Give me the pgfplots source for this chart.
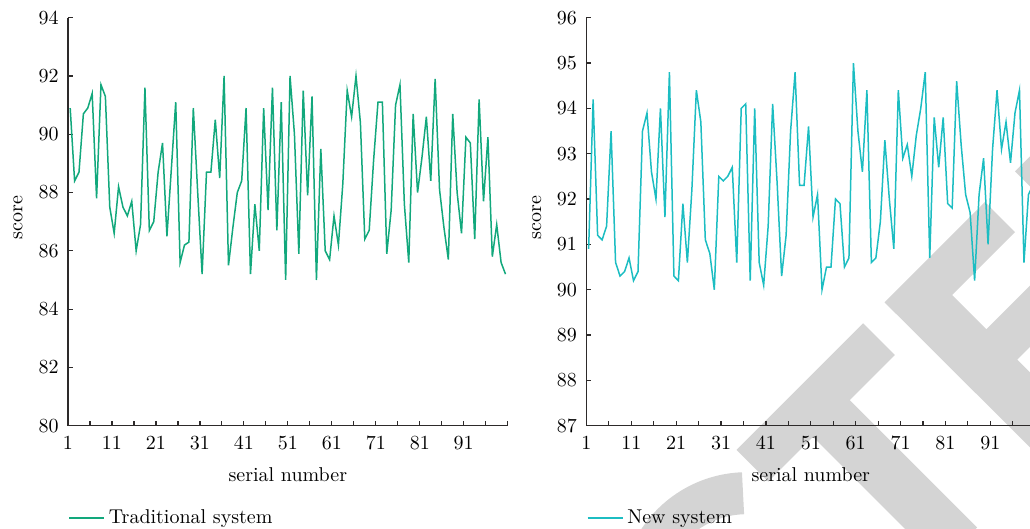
\documentclass[border=0pt]{standalone}
\usepackage{pgfplots}
\usepackage{pgfplotstable}
\pgfplotsset{compat=1.18}

\definecolor{tradgreen}{RGB}{18,168,124}
\definecolor{newcyan}{RGB}{28,189,194}
\definecolor{wm}{RGB}{212,212,212}
\definecolor{axisgray}{RGB}{45,42,42}

% scores, serial number n = 1..100
\pgfplotstableread{
n s
1 90.9
2 88.4
3 88.7
4 90.7
5 90.9
6 91.4
7 87.8
8 91.7
9 91.3
10 87.5
11 86.6
12 88.2
13 87.5
14 87.2
15 87.7
16 86.0
17 86.9
18 91.6
19 86.7
20 87.0
21 88.7
22 89.7
23 86.5
24 88.8
25 91.1
26 85.6
27 86.2
28 86.3
29 90.9
30 88.0
31 85.2
32 88.7
33 88.7
34 90.5
35 88.5
36 92.0
37 85.5
38 86.8
39 88.0
40 88.4
41 90.9
42 85.2
43 87.6
44 86.0
45 90.9
46 87.4
47 91.6
48 86.7
49 91.1
50 85.0
51 92.0
52 90.0
53 85.9
54 91.5
55 87.9
56 91.3
57 85.0
58 89.5
59 86.0
60 85.7
61 87.2
62 86.2
63 88.3
64 91.5
65 90.6
66 92.0
67 90.4
68 86.4
69 86.7
70 89.1
71 91.1
72 91.1
73 85.9
74 87.4
75 91.0
76 91.7
77 87.6
78 85.6
79 90.7
80 88.0
81 89.2
82 90.6
83 88.4
84 91.9
85 88.1
86 86.8
87 85.7
88 90.7
89 88.0
90 86.6
91 89.9
92 89.7
93 86.4
94 91.2
95 87.7
96 89.9
97 85.8
98 86.9
99 85.6
100 85.2
}\tradtable

\pgfplotstableread{
n s
1 90.9
2 94.2
3 91.2
4 91.1
5 91.4
6 93.5
7 90.6
8 90.3
9 90.4
10 90.7
11 90.2
12 90.4
13 93.5
14 93.9
15 92.6
16 92.0
17 94.0
18 91.6
19 94.8
20 90.3
21 90.2
22 91.9
23 90.6
24 92.2
25 94.4
26 93.7
27 91.1
28 90.8
29 90.0
30 92.5
31 92.4
32 92.5
33 92.7
34 90.6
35 94.0
36 94.1
37 90.2
38 94.0
39 90.6
40 90.1
41 91.4
42 94.1
43 92.35
44 90.3
45 91.2
46 93.5
47 94.8
48 92.3
49 92.3
50 93.6
51 91.6
52 92.1
53 90.0
54 90.5
55 90.5
56 92.0
57 91.9
58 90.5
59 90.7
60 95.0
61 93.5
62 92.6
63 94.4
64 90.6
65 90.7
66 91.5
67 93.3
68 92.0
69 90.9
70 94.4
71 92.9
72 93.2
73 92.5
74 93.4
75 94.0
76 94.8
77 90.7
78 93.8
79 92.7
80 93.8
81 91.9
82 91.8
83 94.6
84 93.2
85 92.1
86 91.7
87 90.2
88 92.1
89 92.9
90 91.0
91 93.1
92 94.4
93 93.1
94 93.7
95 92.8
96 93.9
97 94.4
98 90.6
99 92.1
100 92.3
}\newtable

\pgfplotsset{
  panel/.style={
    scale only axis, height=204pt,
    axis x line*=bottom, axis y line*=left,
    axis line style={axisgray, line width=0.8pt},
    tick style={axisgray, line width=0.6pt},
    tick align=inside,
    major tick length=2.5pt, minor tick length=2.5pt,
    xmin=1, xmax=101,
    xtick={1,11,21,31,41,51,61,71,81,91},
    minor xtick={6,16,26,36,46,56,66,76,86,96,101},
    xticklabel style={yshift=-2pt},
    yticklabel style={xshift=-1.2pt},
    xlabel={serial number}, ylabel={score},
    every axis x label/.style={at={(axis description cs:0.5,0)}, anchor=base, yshift=-28pt},
    legend style={at={(axis description cs:0,0)}, anchor=north west, yshift=-39.8pt,
      draw=none, fill=none, inner sep=0pt},
    legend cell align=left,
    legend image code/.code={\draw[#1] (0pt,0pt) -- (17.5pt,0pt);},
  }
}

\begin{document}
\begin{tikzpicture}
\useasboundingbox (0,0) rectangle (515pt,264.5pt);
\clip (0,0) rectangle (515pt,264.5pt);

% watermark letters
\fill[wm] (368.30pt,39.55pt) -- (431.60pt,102.85pt) -- (447.45pt,87.00pt) -- (424.90pt,64.45pt)
  -- (488.60pt,0.75pt) -- (470.20pt,-17.65pt) -- (406.50pt,46.10pt) -- (384.15pt,23.70pt) -- cycle;
\fill[wm] (442.30pt,113.30pt) -- (492.50pt,163.50pt) -- (507.50pt,148.45pt) -- (476.05pt,117.00pt)
  -- (493.20pt,99.85pt) -- (519.70pt,126.35pt) -- (535.10pt,111.00pt) -- (508.60pt,84.70pt)
  -- (525.75pt,67.55pt) -- (557.20pt,99.05pt) -- (572.05pt,84.20pt) -- (521.85pt,34.00pt) -- cycle;
\fill[wm] (507.55pt,178.80pt) -- (544.00pt,215.50pt) -- (623.65pt,136.00pt) -- (587.10pt,99.25pt) -- cycle;
\draw[wm, line width=21pt] (373.35pt,-34.6pt) ++(92:52.5pt) arc[start angle=92, end angle=200, radius=52.5pt];

\begin{axis}[panel, at={(34pt,51.65pt)}, anchor=south west, width=219.85pt,
  ymin=80, ymax=94, ytick={80,82,...,94},
  every axis y label/.style={at={(axis description cs:-0.1137,0.51)}, rotate=90, anchor=center}]
\addplot[tradgreen, line width=0.75pt] table[x expr=\thisrow{n}+0.5, y=s] {\tradtable};
\addlegendentry{Traditional system}
\end{axis}

\begin{axis}[panel, at={(293.2pt,51.65pt)}, anchor=south west, width=224.4pt,
  ymin=87, ymax=96, ytick={87,88,...,96},
  every axis y label/.style={at={(axis description cs:-0.1107,0.51)}, rotate=90, anchor=center}]
\addplot[newcyan, line width=0.75pt] table[x expr=\thisrow{n}+0.5, y=s] {\newtable};
\addlegendentry{New system}
\end{axis}
\end{tikzpicture}
\end{document}
